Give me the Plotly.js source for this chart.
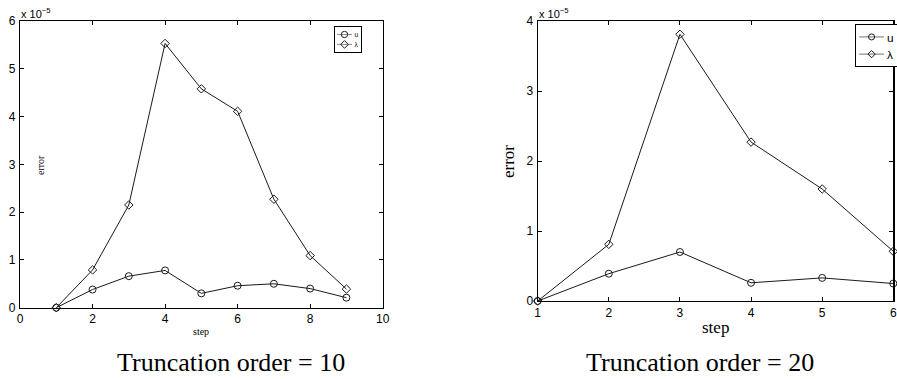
<!DOCTYPE html>
<html>
<head>
<meta charset="utf-8">
<script src="https://cdn.plot.ly/plotly-3.0.1.min.js"></script>
<style>html,body{margin:0;padding:0;background:#fff;}#chart{width:897px;height:379px;}</style>
</head>
<body>
<div id="chart"></div>
<script>
// Values are in units of 1e-5 (axis multiplier "x 10^-5")
const stepsLeft = [1, 2, 3, 4, 5, 6, 7, 8, 9];
const uLeft = [0, 0.38, 0.66, 0.78, 0.30, 0.46, 0.50, 0.40, 0.21];
const lambdaLeft = [0, 0.79, 2.15, 5.53, 4.58, 4.11, 2.27, 1.09, 0.39];

const stepsRight = [1, 2, 3, 4, 5, 6];
const uRight = [0, 0.39, 0.70, 0.26, 0.33, 0.25];
const lambdaRight = [0, 0.81, 3.81, 2.27, 1.60, 0.71];

const legendNames = ['u', 'λ'];
const captions = ['Truncation order = 10', 'Truncation order = 20'];
const xTicksLeft = [0, 2, 4, 6, 8, 10];
const yTicksLeft = [0, 1, 2, 3, 4, 5, 6];
const xTicksRight = [1, 2, 3, 4, 5, 6];
const yTicksRight = [0, 1, 2, 3, 4];

const W = 897, H = 379;
const px = v => v / W;
const py = v => 1 - v / H;
const lineC = '#1a1a1a';

function tr(x, y, name, sym, size, xa, ya, leg) {
  return {
    x: x, y: y, name: name, type: 'scatter', mode: 'lines+markers',
    xaxis: xa, yaxis: ya, legend: leg, cliponaxis: false,
    line: {color: lineC, width: 1},
    marker: {symbol: sym, size: size, color: lineC, line: {color: lineC, width: 1}}
  };
}

const data = [
  tr(stepsLeft, uLeft, legendNames[0], 'circle-open', 7, 'x', 'y', 'legend'),
  tr(stepsLeft, lambdaLeft, legendNames[1], 'diamond-open', 6.5, 'x', 'y', 'legend'),
  tr(stepsRight, uRight, legendNames[0], 'circle-open', 7, 'x2', 'y2', 'legend2'),
  tr(stepsRight, lambdaRight, legendNames[1], 'diamond-open', 6.5, 'x2', 'y2', 'legend2')
];

const sans = 'Liberation Sans, Arial, sans-serif';
const serif = 'Liberation Serif, Times New Roman, serif';

const axBase = {
  showgrid: false, zeroline: false, showline: true, linecolor: '#000', linewidth: 1.2,
  mirror: 'allticks', ticks: 'inside', ticklen: 4, tickcolor: '#000', tickwidth: 1,
  tickfont: {family: sans, size: 12, color: '#000'},
  tickmode: 'array', fixedrange: true
};

const layout = {
  width: W, height: H,
  margin: {l: 0, r: 0, t: 0, b: 0},
  paper_bgcolor: '#fff', plot_bgcolor: '#fff',
  showlegend: true,
  xaxis: Object.assign({}, axBase, {domain: [px(20), px(382.7)], range: [0, 10], tickvals: xTicksLeft, anchor: 'y'}),
  yaxis: Object.assign({}, axBase, {domain: [py(307.7), py(21)], range: [0, 6], tickvals: yTicksLeft, anchor: 'x', ticklabelstandoff: 1}),
  xaxis2: Object.assign({}, axBase, {domain: [px(537.7), px(893.3)], range: [1, 6], tickvals: xTicksRight, anchor: 'y2'}),
  yaxis2: Object.assign({}, axBase, {domain: [py(301), py(21)], range: [0, 4], tickvals: yTicksRight, anchor: 'x2', ticklabelstandoff: 1}),
  legend: {
    x: px(361), y: py(26), xanchor: 'right', yanchor: 'top',
    bgcolor: '#fff', bordercolor: '#000', borderwidth: 2,
    font: {family: sans, size: 13, color: '#000'},
    itemwidth: 30, tracegroupgap: 0
  },
  legend2: {
    x: px(897), y: py(24), xanchor: 'right', yanchor: 'top',
    bgcolor: '#fff', bordercolor: '#000', borderwidth: 2,
    font: {family: sans, size: 19, color: '#000'},
    itemwidth: 40, tracegroupgap: 0
  },
  annotations: [
    {text: 'x 10<sup>−5</sup>', xref: 'paper', yref: 'paper', x: px(19), y: py(22), xanchor: 'left', yanchor: 'bottom', showarrow: false,
     font: {family: sans, size: 11, color: '#000'}},
    {text: 'x 10<sup>−5</sup>', xref: 'paper', yref: 'paper', x: px(537), y: py(22), xanchor: 'left', yanchor: 'bottom', showarrow: false,
     font: {family: sans, size: 11, color: '#000'}},
    {text: 'error', xref: 'paper', yref: 'paper', x: px(40), y: py(165), xanchor: 'center', yanchor: 'middle', textangle: -90, showarrow: false,
     font: {family: serif, size: 10, color: '#000'}},
    {text: 'step', xref: 'paper', yref: 'paper', x: px(200.5), y: py(331), xanchor: 'center', yanchor: 'middle', showarrow: false,
     font: {family: serif, size: 10, color: '#000'}},
    {text: 'error', xref: 'paper', yref: 'paper', x: px(508), y: py(162), xanchor: 'center', yanchor: 'middle', textangle: -90, showarrow: false,
     font: {family: serif, size: 17, color: '#000'}},
    {text: 'step', xref: 'paper', yref: 'paper', x: px(715), y: py(327), xanchor: 'center', yanchor: 'middle', showarrow: false,
     font: {family: serif, size: 17, color: '#000'}},
    {text: captions[0], xref: 'paper', yref: 'paper', x: px(231), y: py(362), xanchor: 'center', yanchor: 'middle', showarrow: false,
     font: {family: serif, size: 26, color: '#000'}},
    {text: captions[1], xref: 'paper', yref: 'paper', x: px(700), y: py(362), xanchor: 'center', yanchor: 'middle', showarrow: false,
     font: {family: serif, size: 26, color: '#000'}}
  ]
};

// Scale a rendered legend group so its box fits a target right/top corner,
// and enlarge its marker glyphs by markerScale.
function fitLegend(gd, cls, scale, right, top, markerScale) {
  const g = gd.querySelector('g.' + cls);
  if (!g) return;
  const bg = g.querySelector('rect.bg');
  const w = bg ? parseFloat(bg.getAttribute('width')) : g.getBBox().width;
  g.setAttribute('transform', 'translate(' + (right - w * scale) + ',' + top + ') scale(' + scale + ')');
  g.querySelectorAll('.legendpoints path.scatterpts').forEach(function (p) {
    const t = p.getAttribute('transform') || '';
    p.setAttribute('transform', t + ' scale(' + markerScale + ')');
    p.style.strokeWidth = (1 / (scale * markerScale)) + 'px';
  });
  g.querySelectorAll('.legendpoints path.js-line').forEach(function (p) {
    p.style.strokeWidth = (1 / scale) + 'px';
  });
}

Plotly.newPlot('chart', data, layout, {displayModeBar: false, staticPlot: true}).then(function (gd) {
  fitLegend(gd, 'legend', 0.5, 361, 26, 1.8);
  fitLegend(gd, 'legend2', 0.62, 897, 24, 1.4);
});
</script>
</body>
</html>
